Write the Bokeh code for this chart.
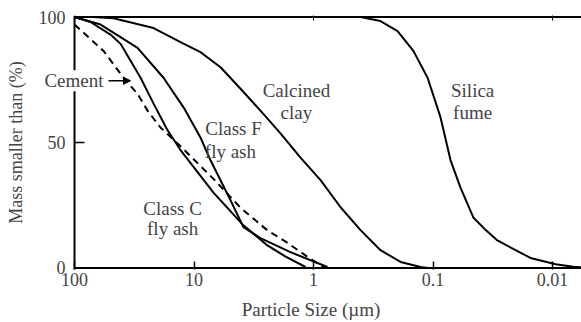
from bokeh.plotting import figure
from bokeh.models import (Range1d, FixedTicker, LogAxis, Label, Arrow, NormalHead,
                          CustomJSTickFormatter, Span)
from bokeh.embed import file_html
from bokeh.resources import INLINE

# ---- data (particle size in µm, cumulative mass smaller than, %) ----
cement_x = [100, 57.2, 38.9, 29.7, 24.5, 19.1, 12.97, 6.87, 4.08, 2.43, 1.71, 1.12, 0.82]
cement_y = [97, 86.5, 75.8, 69.4, 62.7, 56, 48.5, 35.5, 24, 15, 10.5, 4.4, 0.4]

class_c_x = [100, 73.5, 50, 41.2, 28.0, 21.8, 16.7, 12.97, 6.87, 3.86, 2.43, 1.71, 1.167]
class_c_y = [100, 98, 93, 89.3, 75.8, 65.5, 55, 47, 30, 17, 9, 4.5, 0.4]

class_f_x = [100, 60.5, 41.2, 29.7, 18.0, 12.2, 8.83, 7.28, 4.95, 3.86, 2.78, 1.56, 0.764]
class_f_y = [100, 97, 92, 87.7, 75.8, 63.9, 52, 42.9, 27, 16.3, 11.9, 6.3, 0.4]

clay_x = [100, 70, 47.2, 21.8, 12.97, 8.83, 6.00, 4.08, 2.78, 1.89, 1.285, 0.873, 0.594,
          0.404, 0.275, 0.187, 0.127, 0.11]
clay_y = [100, 100, 99.5, 95.6, 90, 86, 80, 71.4, 62.7, 53.6, 44, 35, 24.2,
          15.1, 7.1, 2.4, 0.4, 0]

silica_x = [1.0, 0.60, 0.404, 0.275, 0.198, 0.146, 0.111, 0.0865, 0.0714, 0.0589, 0.0458,
            0.036, 0.0289, 0.0153, 0.0094, 0.0067, 0.0058]
silica_y = [100, 100, 100, 98.4, 94.4, 86.5, 75.8, 60, 43, 32, 20,
            15, 11, 4, 1.5, 0.5, 0.3]

x_ticks = [100, 10, 1, 0.1, 0.01]
x_tick_labels = ["100", "10", "1", "0.1", "0.01"]
y_ticks = [0, 50, 100]
y_tick_labels = ["0", "50", "100"]

FONT = "Liberation Serif"
TICK_FS = "18px"
ANN_FS = "19px"

x_axis_at = x_ticks[0]          # the vertical axis sits at 100 µm
y_min, y_max = y_ticks[0], y_ticks[-1]

p = figure(width=581, height=322, x_axis_type="log",
           x_range=Range1d(192.6, 0.00572), y_range=Range1d(-0.6, 100.6),
           output_backend="svg", toolbar_location=None,
           min_border_left=40, min_border_right=0, min_border_top=15, min_border_bottom=52)
p.outline_line_color = None
p.xgrid.visible = False
p.ygrid.visible = False
p.background_fill_color = "white"

for xs, ys, dash in [(cement_x, cement_y, "7 5"), (class_c_x, class_c_y, "solid"),
                     (class_f_x, class_f_y, "solid"), (clay_x, clay_y, "solid"),
                     (silica_x, silica_y, "solid")]:
    p.line(xs, ys, line_color="black", line_width=2, line_dash=dash, line_join="round")

# axis frame lines (left at 100 µm, bottom at 0 %, top at 100 %)
p.add_layout(Span(location=x_axis_at, dimension="height", line_color="black", line_width=2))
p.ray(x=[x_axis_at, x_axis_at], y=[y_min, y_max], length=0, angle=0,
      line_color="black", line_width=2)
# inward y ticks
p.ray(x=[x_axis_at] * len(y_ticks), y=y_ticks, length=10, length_units="screen", angle=0,
      line_color="black", line_width=1.5)

fmt_code = "const i = tv.indexOf(tick); return i >= 0 ? tl[i] : '';"

xa = p.xaxis[0]
xa.ticker = FixedTicker(ticks=x_ticks)
xa.formatter = CustomJSTickFormatter(args=dict(tv=x_ticks, tl=x_tick_labels), code=fmt_code)
xa.axis_line_color = None
xa.minor_tick_line_color = None
xa.major_tick_in = 8
xa.major_tick_out = 0
xa.major_tick_line_width = 1.5
xa.major_label_text_font = FONT
xa.major_label_text_font_size = TICK_FS
xa.major_label_standoff = 3
xa.axis_label = "Particle Size (µm)"
xa.axis_label_text_font = FONT
xa.axis_label_text_font_size = ANN_FS
xa.axis_label_text_font_style = "normal"
xa.axis_label_standoff = 10

ya = p.yaxis[0]
ya.ticker = FixedTicker(ticks=y_ticks)
ya.formatter = CustomJSTickFormatter(args=dict(tv=y_ticks, tl=y_tick_labels), code=fmt_code)
ya.axis_line_color = None
ya.major_tick_line_color = None
ya.major_tick_in = 0
ya.major_tick_out = 0
ya.minor_tick_line_color = None
ya.major_label_text_font = FONT
ya.major_label_text_font_size = TICK_FS
ya.major_label_standoff = -25
ya.axis_label = "Mass smaller than (%)"
ya.axis_label_text_font = FONT
ya.axis_label_text_font_size = TICK_FS
ya.axis_label_text_font_style = "normal"
ya.axis_label_standoff = 10

top = LogAxis(ticker=FixedTicker(ticks=[1, 0.01]), axis_line_color=None,
              major_tick_in=5, major_tick_out=0, minor_tick_line_color=None,
              major_label_text_color=None, major_label_text_font_size="2px",
              major_label_standoff=0)
p.add_layout(top, "above")

# annotations
def lab(x, y, t, right=False):
    p.add_layout(Label(x=x, y=y, text=t, text_font=FONT, text_font_size=ANN_FS,
                       text_align="right" if right else "center", text_baseline="middle",
                       background_fill_color="white" if right else None,
                       level="overlay" if right else "annotation"))

lab(57.2, 74.6, "Cement", right=True)
p.add_layout(Arrow(x_start=52, y_start=74.6, x_end=34, y_end=74.6, line_width=1.5,
                   end=NormalHead(size=7, fill_color="black", line_color="black")))
lab(1.39, 70.6, "Calcined")
lab(1.39, 61.9, "clay")
lab(4.67, 55.6, "Class F")
lab(4.96, 46.4, "fly ash")
lab(15.1, 23.8, "Class C")
lab(15.1, 15.9, "fly ash")
lab(0.0466, 70.6, "Silica")
lab(0.0466, 61.9, "fume")

open("out.html", "w").write(file_html(p, INLINE))
